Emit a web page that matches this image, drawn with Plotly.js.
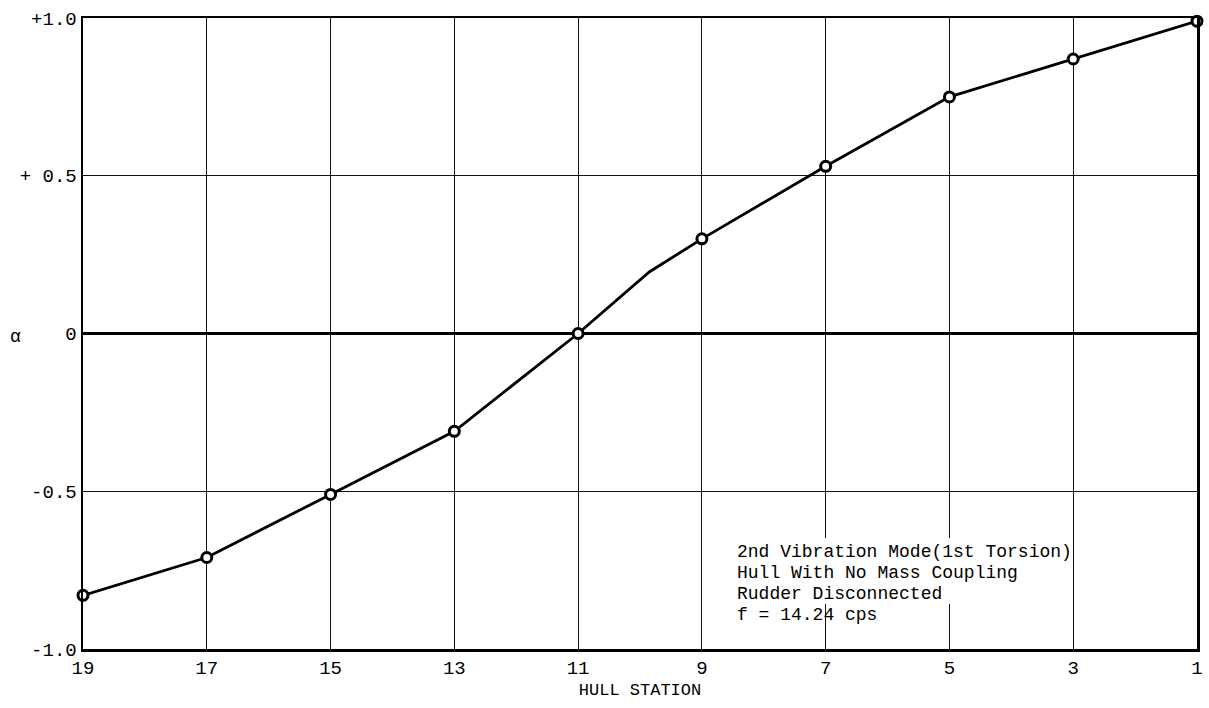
<!DOCTYPE html>
<html>
<head>
<meta charset="utf-8">
<script src="https://cdn.plot.ly/plotly-3.0.1.min.js"></script>
<style>html,body{margin:0;padding:0;background:#fff;}#chart{width:1209px;height:708px;}</style>
</head>
<body>
<div id="chart"></div>
<script>
// Hull stations (odd stations carry the measured points)
const stations = [19, 17, 15, 13, 11, 9, 7, 5, 3, 1];
const alphaValues = [-0.83, -0.71, -0.51, -0.31, 0.0, 0.30, 0.53, 0.75, 0.87, 0.99];
// the drawn curve (slight bend between stations 11 and 9)
const curveStations = [19, 17, 15, 13, 11, 9.85, 9, 7, 5, 3, 1];
const curveValues = [-0.83, -0.71, -0.51, -0.31, 0.0, 0.195, 0.30, 0.53, 0.75, 0.87, 0.99];
const xTickVals = [19, 17, 15, 13, 11, 9, 7, 5, 3, 1];
const xTickText = ['19', '17', '15', '13', '11', '9', '7', '5', '3', '1'];
const yTickVals = [1.0, 0.5, 0, -0.5, -1.0];
const yTickText = ['+1.0', '+ 0.5', '0', '-0.5', '-1.0'];
const noteLines = ['2nd Vibration Mode(1st Torsion)', 'Hull With No Mass Coupling', 'Rudder Disconnected', 'f = 14.24 cps'];

const font = 'Liberation Mono, Courier New, monospace';
const plotTop = 18, plotBottom = 649, plotLeft = 83, plotRight = 1197;
const px = v => (v - plotLeft) / (plotRight - plotLeft);
const py = v => (plotBottom - v) / (plotBottom - plotTop);

const traces = [
  {
    x: curveStations, y: curveValues, mode: 'lines', type: 'scatter',
    line: {color: '#000', width: 2.8}, hoverinfo: 'skip', showlegend: false
  },
  {
    x: stations, y: alphaValues, mode: 'markers', type: 'scatter',
    marker: {symbol: 'circle', size: 10, color: '#fff', line: {color: '#000', width: 3}},
    showlegend: false, cliponaxis: false
  }
];

const noteAnnotations = noteLines.map((t, i) => ({
  xref: 'paper', yref: 'paper',
  x: px(735), y: py(552 + i * 21),
  xanchor: 'left', yanchor: 'middle', align: 'left',
  showarrow: false, text: t,
  font: {family: font, size: 18, color: '#000'}
}));

const layout = {
  width: 1209, height: 708,
  margin: {l: 83, r: 12, t: 18, b: 59},
  paper_bgcolor: '#fff', plot_bgcolor: '#fff',
  font: {family: font, color: '#000', size: 18},
  showlegend: false,
  xaxis: {
    range: [19, 1], autorange: false,
    tickvals: xTickVals, ticktext: xTickText,
    showgrid: true, gridcolor: '#111', gridwidth: 1,
    zeroline: false, showline: true, linecolor: '#000', linewidth: 2.5, mirror: true,
    ticks: '', ticklen: 0,
    tickfont: {family: font, size: 19, color: '#000'},
    title: {text: 'HULL STATION', font: {family: font, size: 17, color: '#000'}, standoff: 4}
  },
  yaxis: {
    range: [-1.0, 1.0], autorange: false,
    tickvals: yTickVals, ticktext: yTickText,
    showgrid: true, gridcolor: '#111', gridwidth: 1,
    zeroline: true, zerolinecolor: '#000', zerolinewidth: 2.5,
    showline: true, linecolor: '#000', linewidth: 2.5, mirror: true,
    ticks: '', ticklen: 0,
    tickfont: {family: font, size: 19, color: '#000'}
  },
  shapes: [{
    type: 'rect', xref: 'paper', yref: 'paper', layer: 'above',
    x0: px(730), x1: px(1067), y0: py(604), y1: py(538),
    fillcolor: '#fff', line: {width: 0}
  }],
  annotations: noteAnnotations.concat([{
    xref: 'paper', yref: 'paper',
    x: px(15), y: 0.495,
    xanchor: 'center', yanchor: 'middle', showarrow: false,
    text: 'α', font: {family: font, size: 18, color: '#000'}
  }])
};

Plotly.newPlot('chart', traces, layout, {displayModeBar: false, staticPlot: true});
</script>
</body>
</html>
